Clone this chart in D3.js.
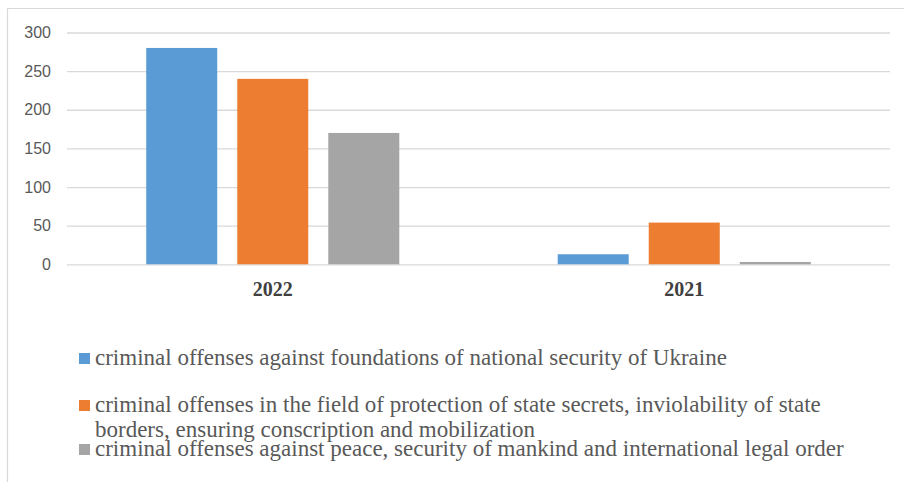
<!DOCTYPE html>
<html>
<head>
<meta charset="utf-8">
<script src="https://cdn.jsdelivr.net/npm/d3@7"></script>
<style>
  html, body { margin: 0; padding: 0; background: #fff; }
  svg { display: block; }
</style>
</head>
<body>
<svg id="chart" width="904" height="482"></svg>
<script>
// data
const years = ["2022", "2021"];
const seriesNames = ["security", "secrets", "peace"];
const securityValues = [280, 13];
const secretsValues = [240, 54];
const peaceValues = [170, 3];
const yTicks = [0, 50, 100, 150, 200, 250, 300];
const legendLabels = [
    ["criminal offenses against foundations of national security of Ukraine"],
    ["criminal offenses in the field of protection of state secrets, inviolability of state",
     "borders, ensuring conscription and mobilization"],
    ["criminal offenses against peace, security of mankind and international legal order"]
];

const colors = ["#5B9BD5", "#ED7D31", "#A5A5A5"];
const valuesBySeries = [securityValues, secretsValues, peaceValues];

let svg = d3.select("#chart");

// outer frame (only top and left show inside the picture)
svg.append("line")
    .attr("x1", 7.5).attr("y1", 8.5).attr("x2", 904).attr("y2", 8.5)
    .attr("stroke", "#d9d9d9").attr("stroke-width", 1.2);
svg.append("line")
    .attr("x1", 7.5).attr("y1", 8.5).attr("x2", 7.5).attr("y2", 482)
    .attr("stroke", "#d9d9d9").attr("stroke-width", 1.2);

let plot = {left: 67, right: 890, top: 32.5, bottom: 264.3};

let y = d3.scaleLinear()
    .domain([0, 300])
    .range([plot.bottom, plot.top]);

let x0 = d3.scaleBand()
    .domain(years)
    .range([plot.left, plot.right]);

let x1 = d3.scaleBand()
    .domain(seriesNames)
    .range([0, x0.bandwidth()])
    .paddingInner(0.22)
    .paddingOuter(0.87);

// gridlines
let yAxis = d3.axisLeft(y)
    .tickValues(yTicks)
    .tickSize(-(plot.right - plot.left))
    .tickPadding(16);

let gAxis = svg.append("g")
    .attr("transform", "translate(" + plot.left + ",0)")
    .call(yAxis);

gAxis.select(".domain").remove();
gAxis.selectAll(".tick line")
    .attr("stroke", "#d9d9d9")
    .attr("stroke-width", 1.3);
gAxis.selectAll(".tick text")
    .attr("fill", "#595959")
    .style("font-family", "'Liberation Sans', Arial, sans-serif")
    .style("font-size", "16px");

// bars
let rows = years.map((yr, i) => ({
    year: yr,
    values: seriesNames.map((s, j) => ({key: s, value: valuesBySeries[j][i], color: colors[j]}))
}));

let groups = svg.append("g")
    .selectAll("g")
    .data(rows)
    .join("g")
    .attr("transform", d => "translate(" + x0(d.year) + ",0)");

groups.selectAll("rect")
    .data(d => d.values)
    .join("rect")
    .attr("x", d => x1(d.key))
    .attr("width", x1.bandwidth())
    .attr("y", d => y(d.value))
    .attr("height", d => y(0) - y(d.value))
    .attr("fill", d => d.color);

// category labels
svg.append("g")
    .selectAll("text")
    .data(years)
    .join("text")
    .attr("x", d => x0(d) + x0.bandwidth() / 2)
    .attr("y", 296)
    .attr("text-anchor", "middle")
    .attr("fill", "#404040")
    .style("font-family", "'Liberation Serif', 'Times New Roman', serif")
    .style("font-weight", "bold")
    .style("font-size", "20px")
    .text(d => d);

// legend
let legendBaselines = [[365], [412, 437], [456]];

let legend = svg.append("g")
    .selectAll("g")
    .data(legendLabels)
    .join("g");

legend.append("rect")
    .attr("x", 79)
    .attr("y", (d, i) => legendBaselines[i][0] - 12)
    .attr("width", 11)
    .attr("height", 11)
    .attr("fill", (d, i) => colors[i]);

legend.each(function(lines, i) {
    d3.select(this).selectAll("text")
        .data(lines)
        .join("text")
        .attr("x", 95)
        .attr("y", (d, k) => legendBaselines[i][k])
        .attr("fill", "#595959")
        .style("font-family", "'Liberation Serif', 'Times New Roman', serif")
        .style("font-size", "23px")
        .text(d => d);
});
</script>
</body>
</html>
